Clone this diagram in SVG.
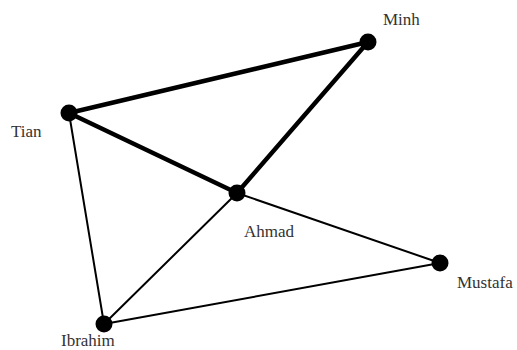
<svg xmlns="http://www.w3.org/2000/svg" width="517" height="350" viewBox="0 0 517 350">
  <style>
    .edge { stroke: #000; stroke-linecap: round; fill: none; }
    .thin { stroke-width: 2; }
    .thick { stroke-width: 4.5; }
    .node circle { fill: #000; }
    .node text { font-family: "Liberation Serif", "Times New Roman", serif; font-size: 17px; fill: #333; }
  </style>
  <rect width="517" height="350" fill="#fff"/>
  <g id="links">
    <line class="edge thick" x1="69" y1="113" x2="368" y2="42"/>
    <line class="edge thick" x1="368" y1="42" x2="237" y2="193"/>
    <line class="edge thick" x1="69" y1="113" x2="237" y2="193"/>
    <line class="edge thin" x1="69" y1="113" x2="104" y2="324"/>
    <line class="edge thin" x1="104" y1="324" x2="237" y2="193"/>
    <line class="edge thin" x1="237" y1="193" x2="440" y2="263"/>
    <line class="edge thin" x1="440" y1="263" x2="104" y2="324"/>
  </g>
  <g id="minh" class="node">
    <circle cx="368" cy="42" r="8.5"/>
    <text x="383" y="25">Minh</text>
  </g>
  <g id="tian" class="node">
    <circle cx="69" cy="113" r="8.5"/>
    <text x="11" y="137">Tian</text>
  </g>
  <g id="ahmad" class="node">
    <circle cx="237" cy="193" r="8.5"/>
    <text x="244" y="237">Ahmad</text>
  </g>
  <g id="mustafa" class="node">
    <circle cx="440" cy="263" r="8.5"/>
    <text x="457" y="288">Mustafa</text>
  </g>
  <g id="ibrahim" class="node">
    <circle cx="104" cy="324" r="8.5"/>
    <text x="61" y="346">Ibrahim</text>
  </g>
</svg>
